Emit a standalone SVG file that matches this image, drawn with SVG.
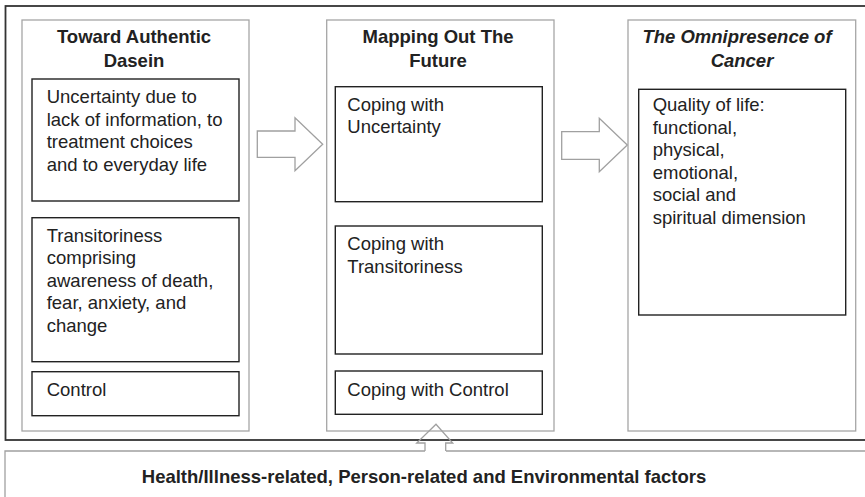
<svg xmlns="http://www.w3.org/2000/svg" width="865" height="497" viewBox="0 0 865 497">
<style>
.frame{fill:none;stroke:#333;stroke-width:1.8}
.col{fill:#fff;stroke:#a6a6a6;stroke-width:1.3}
.box{fill:#fff;stroke:#222;stroke-width:1.4}
.arr{fill:#fff;stroke:#a0a0a0;stroke-width:1.3;stroke-linejoin:miter}
.arrn{fill:none;stroke:#a0a0a0;stroke-width:1.3}
text{font-family:"Liberation Sans",Arial,sans-serif;font-size:18.5px;fill:#222}
.t{font-weight:bold;text-anchor:middle}
.ti{font-weight:bold;font-style:italic;text-anchor:middle}
</style>
<rect width="865" height="497" fill="#fff"/>
<rect class="frame" x="5.5" y="6" width="870" height="434"/>
<g id="col-left">
<rect class="col" x="22" y="20" width="227" height="411"/>
<text class="t" x="134" y="43.3">Toward Authentic</text>
<text class="t" x="134" y="66.5">Dasein</text>
</g>
<g id="box-uncertainty">
<rect class="box" x="32" y="79" width="207" height="122"/>
<text x="46.7" y="103.3">Uncertainty due to</text>
<text x="46.7" y="125.8">lack of information, to</text>
<text x="46.7" y="148.3">treatment choices</text>
<text x="46.7" y="170.8">and to everyday life</text>
</g>
<g id="box-transitoriness">
<rect class="box" x="32" y="217.7" width="207" height="144"/>
<text x="46.7" y="241.5">Transitoriness</text>
<text x="46.7" y="264">comprising</text>
<text x="46.7" y="286.5">awareness of death,</text>
<text x="46.7" y="309">fear, anxiety, and</text>
<text x="46.7" y="331.5">change</text>
</g>
<g id="box-control">
<rect class="box" x="32" y="371.7" width="207" height="44"/>
<text x="46.7" y="396">Control</text>
</g>
<g id="col-middle">
<rect class="col" x="326.7" y="20" width="227.3" height="411"/>
<text class="t" x="438" y="43.3">Mapping Out The</text>
<text class="t" x="438" y="66.5">Future</text>
</g>
<g id="box-coping-uncertainty">
<rect class="box" x="335.3" y="86.7" width="207" height="115"/>
<text x="347.3" y="111">Coping with</text>
<text x="347.3" y="133.4">Uncertainty</text>
</g>
<g id="box-coping-transitoriness">
<rect class="box" x="335.3" y="226" width="207" height="128"/>
<text x="347.3" y="250">Coping with</text>
<text x="347.3" y="272.5">Transitoriness</text>
</g>
<g id="box-coping-control">
<rect class="box" x="335.3" y="371" width="207" height="43.3"/>
<text x="347.3" y="396">Coping with Control</text>
</g>
<g id="col-right">
<rect class="col" x="628" y="20" width="227.7" height="411"/>
<text class="ti" x="737" y="43.3">The Omnipresence of</text>
<text class="ti" x="742" y="66.5">Cancer</text>
</g>
<g id="box-quality">
<rect class="box" x="638.7" y="89.3" width="207" height="225.7"/>
<text x="652.7" y="111">Quality of life:</text>
<text x="652.7" y="133.5">functional,</text>
<text x="652.7" y="156">physical,</text>
<text x="652.7" y="178.5">emotional,</text>
<text x="652.7" y="201">social and</text>
<text x="652.7" y="223.5">spiritual dimension</text>
</g>
<g id="box-factors">
<path class="arrn" d="M5,500 V451 H425 M446,451 H870"/>
<text class="t" x="424" y="482.5">Health/Illness-related, Person-related and Environmental factors</text>
</g>
<g id="connectors">
<path class="arr" d="M257.3,131 H295 V117.7 L322.7,144.3 L295,170.7 V157.3 H257.3 Z"/>
<path class="arr" d="M561.7,131.7 H599.3 V118.3 L627.3,145 L599.3,171.7 V159.3 H561.7 Z"/>
<path class="arrn" d="M425,451 V443 H416.7 L436,424.3 L452.7,443 H445.7 V451"/>
</g>
</svg>
